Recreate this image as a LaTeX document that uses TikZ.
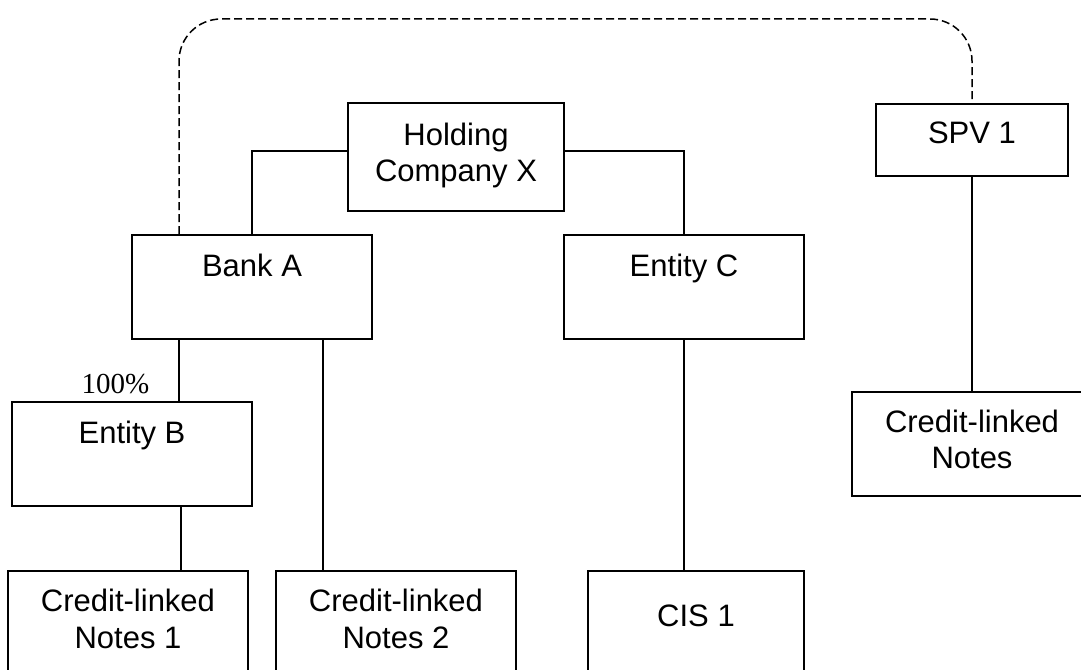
\documentclass[tikz,border=0pt]{standalone}
\usepackage{fontspec}
\setmainfont{Liberation Sans}
\newfontfamily\pctfont{Liberation Serif}
\usetikzlibrary{calc}
\begin{document}
\begin{tikzpicture}[x=1pt,y=-1pt,
  entity/.style={draw, line width=2pt, rectangle, inner sep=0pt, minimum width=240pt, minimum height=104pt},
  caption/.style={anchor=base, inner sep=0pt, font=\fontsize{31}{37}\selectfont},
  link/.style={line width=2pt},
  control/.style={line width=1.5pt, dash pattern=on 8pt off 4pt, rounded corners=42pt}]
  \useasboundingbox (0,0) rectangle (1081,669);

  % boxes
  \node[entity, minimum width=216pt, minimum height=108pt] (hold) at (456,157) {};
  \node[entity, minimum width=192pt, minimum height=72pt] (spv) at (972,140) {};
  \node[entity] (bankA) at (252,287) {};
  \node[entity] (entC) at (684,287) {};
  \node[entity] (entB) at (132,454) {};
  \node[entity] (clnA) at (128,623) {};
  \node[entity] (clnB) at (396,623) {};
  \node[entity, minimum width=216pt] (cis) at (696,623) {};
  \node[entity] (clnR) at (972,444) {};

  % labels
  \node[caption] (hold-t1) at (456,145) {Holding};
  \node[caption] (hold-t2) at (456,181) {Company X};
  \node[caption] (spv-t) at (972,143) {SPV 1};
  \node[caption] (bankA-t) at (252,276) {Bank A};
  \node[caption] (entC-t) at (684,276) {Entity C};
  \node[caption] (entB-t) at (132,443) {Entity B};
  \node[caption] (clnA-t1) at (128,611) {Credit-linked};
  \node[caption] (clnA-t2) at (128,648) {Notes 1};
  \node[caption] (clnB-t1) at (396,611) {Credit-linked};
  \node[caption] (clnB-t2) at (396,648) {Notes 2};
  \node[caption] (cis-t) at (696,626) {CIS 1};
  \node[caption] (clnR-t1) at (972,432) {Credit-linked};
  \node[caption] (clnR-t2) at (972,468) {Notes};
  \node[anchor=base, inner sep=0pt, font=\pctfont\fontsize{29}{34}\selectfont] (pct) at (115.5,393) {100\%};

  % ownership links
  \draw[link] ($(hold.west)+(0,-6)$) -| (bankA.north);
  \draw[link] ($(hold.east)+(0,-6)$) -| (entC.north);
  \coordinate (bA1) at ($(bankA.south west)+(48,0)$);
  \coordinate (bA2) at ($(bankA.south west)+(192,0)$);
  \draw[link] (bA1) -- (bA1 |- entB.north);
  \draw[link] (bA2) -- (bA2 |- clnB.north);
  \coordinate (eB1) at ($(entB.south east)+(-72,0)$);
  \draw[link] (eB1) -- (eB1 |- clnA.north);
  \draw[link] (entC.south) -- (entC.south |- cis.north);
  \draw[link] (spv.south) -- (clnR.north);

  % control relationship
  \coordinate (bA0) at ($(bankA.north west)+(48,0)$);
  \coordinate (dtop) at (0,19);
  \draw[control] (bA0) -- (bA0 |- dtop) -- (spv.north |- dtop) -- (spv.north);
\end{tikzpicture}
\end{document}
